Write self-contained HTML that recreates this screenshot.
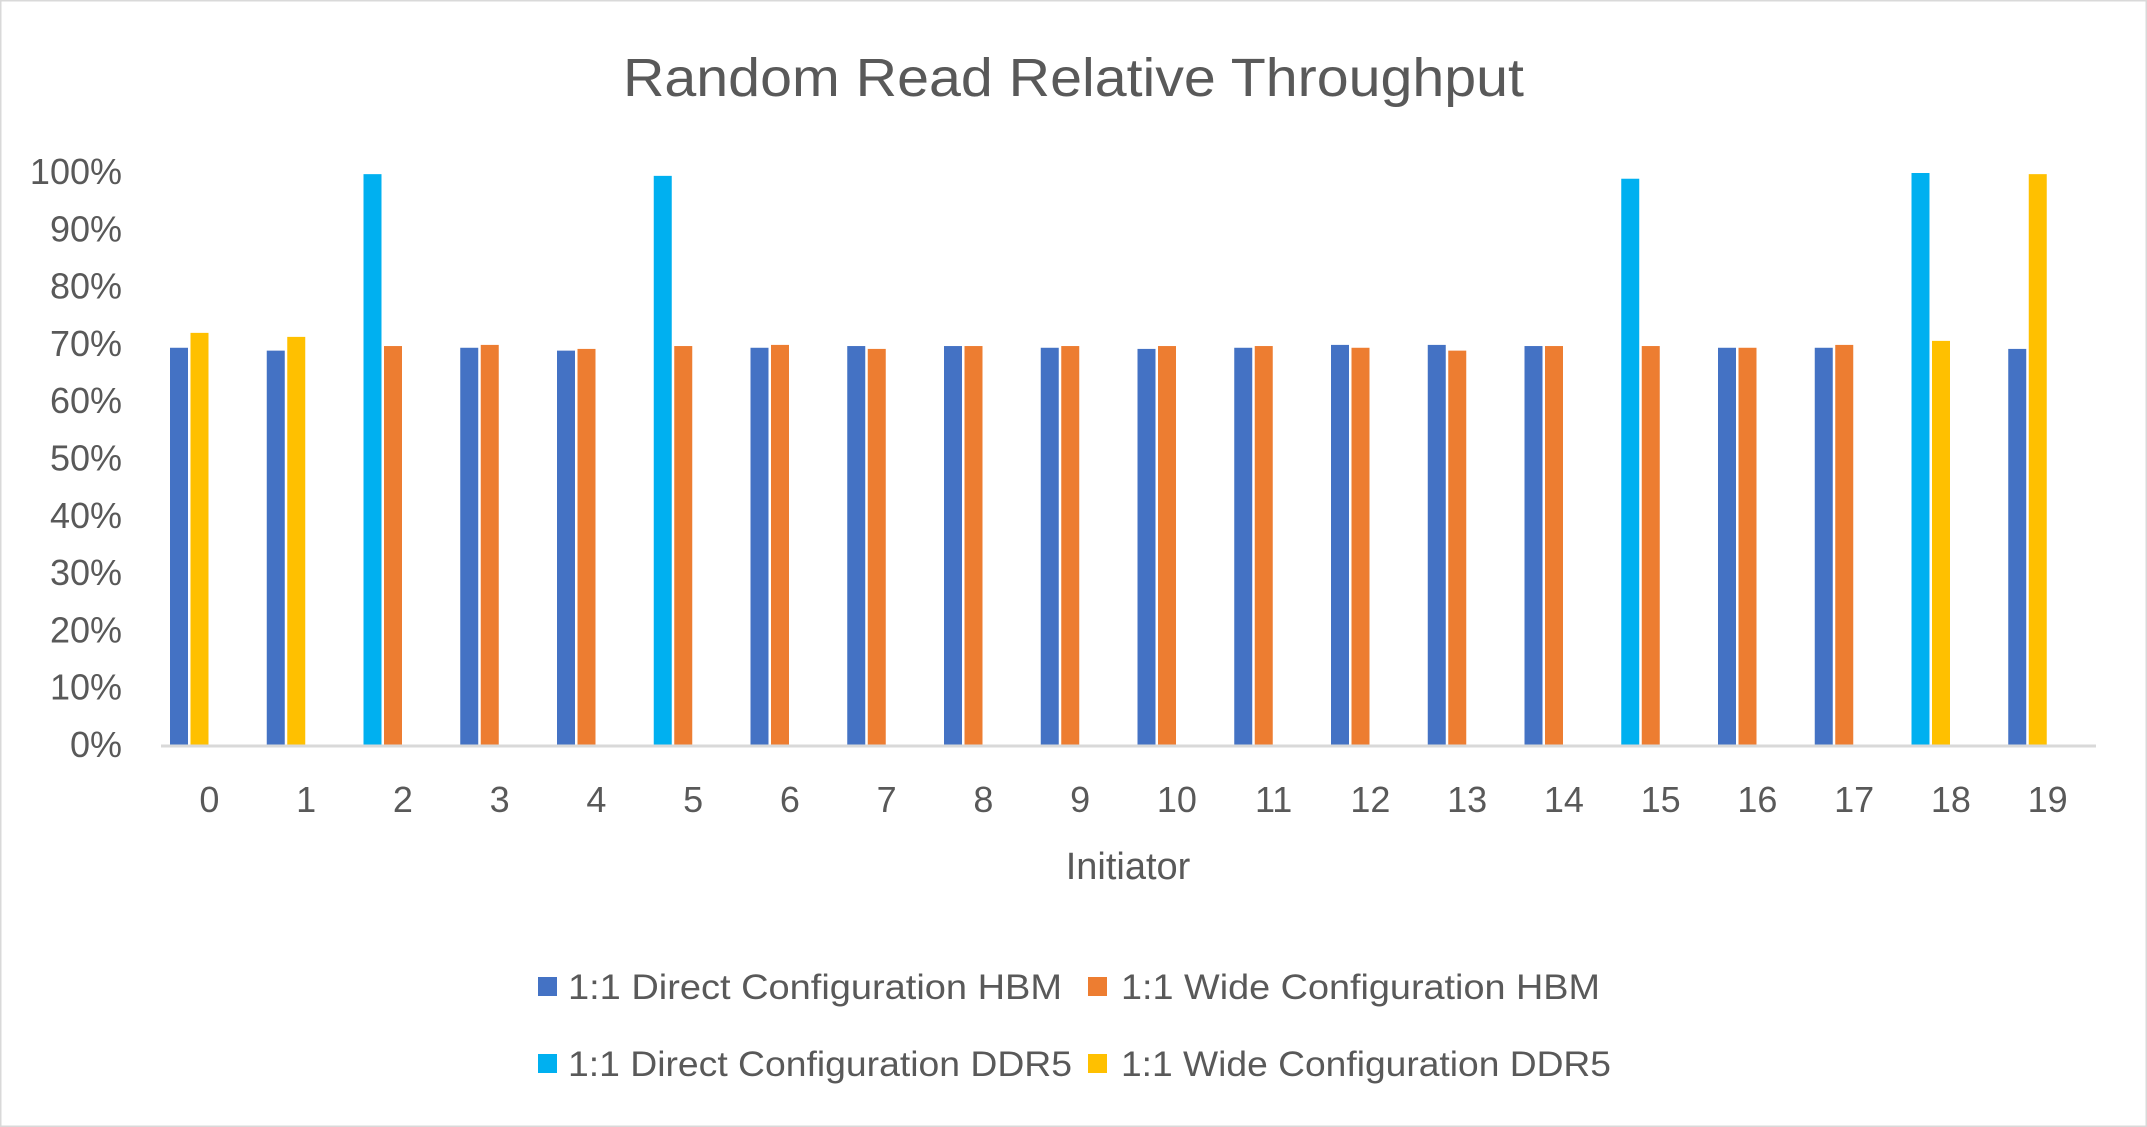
<!DOCTYPE html>
<html><head><meta charset="utf-8"><style>
html,body{margin:0;padding:0;background:#fff;}
svg{display:block;font-family:"Liberation Sans",sans-serif;}
</style></head><body>
<svg id="c" width="2147" height="1127" viewBox="0 0 2147 1127" xmlns="http://www.w3.org/2000/svg">
<rect x="0.5" y="0.5" width="2146" height="1126" fill="#fff" stroke="#D9D9D9" stroke-width="2"/>
<text x="623" y="96" font-size="54" fill="#595959" textLength="901" lengthAdjust="spacingAndGlyphs">Random Read Relative Throughput</text>
<g id="ylab" font-size="36" fill="#595959" text-anchor="end"></g>
<g id="bars"></g>
<line x1="161" y1="746" x2="2096" y2="746" stroke="#D9D9D9" stroke-width="3"/>
<g id="xlab" font-size="36" fill="#595959" text-anchor="middle"></g>
<text x="1128" y="879" font-size="38" fill="#595959" text-anchor="middle">Initiator</text>
<rect x="538" y="977" width="19" height="19" fill="#4472C4"/>
<text x="568" y="999" font-size="35" fill="#595959" textLength="494" lengthAdjust="spacingAndGlyphs">1:1 Direct Configuration HBM</text>
<rect x="1088" y="977" width="19" height="19" fill="#ED7D31"/>
<text x="1121" y="999" font-size="35" fill="#595959" textLength="479" lengthAdjust="spacingAndGlyphs">1:1 Wide Configuration HBM</text>
<rect x="538" y="1054" width="19" height="19" fill="#00B0F0"/>
<text x="568" y="1076" font-size="35" fill="#595959" textLength="504" lengthAdjust="spacingAndGlyphs">1:1 Direct Configuration DDR5</text>
<rect x="1088" y="1054" width="19" height="19" fill="#FFC000"/>
<text x="1121" y="1076" font-size="35" fill="#595959" textLength="490" lengthAdjust="spacingAndGlyphs">1:1 Wide Configuration DDR5</text>
</svg>
<script>
var NS="http://www.w3.org/2000/svg";
function el(p,t,a,txt){var e=document.createElementNS(NS,t);for(var k in a)e.setAttribute(k,a[k]);if(txt!=null)e.textContent=txt;document.getElementById(p).appendChild(e);}
for(var i=0;i<=10;i++){var y=746-i*57.3;el("ylab","text",{x:122,y:y+11},(i*10)+"%");}
var B="#4472C4",O="#ED7D31",C="#00B0F0",Y="#FFC000";
var d=[[B,69.5,Y,72.1],[B,69,Y,71.4],[C,99.8,O,69.8],[B,69.5,O,70],[B,69,O,69.3],[C,99.5,O,69.8],[B,69.5,O,70],[B,69.8,O,69.3],[B,69.8,O,69.8],[B,69.5,O,69.8],[B,69.3,O,69.8],[B,69.5,O,69.8],[B,70,O,69.5],[B,70,O,69],[B,69.8,O,69.8],[C,99,O,69.8],[B,69.5,O,69.5],[B,69.5,O,70],[C,100,Y,70.7],[B,69.3,Y,99.8]];
for(var i=0;i<20;i++){var x=170+96.75*i,r=d[i];
el("bars","rect",{x:x,y:746-r[1]*5.73,width:18,height:r[1]*5.73,fill:r[0]});
el("bars","rect",{x:x+20.5,y:746-r[3]*5.73,width:18,height:r[3]*5.73,fill:r[2]});
el("xlab","text",{x:209.4+96.75*i,y:812},String(i));}
</script>
</body></html>
